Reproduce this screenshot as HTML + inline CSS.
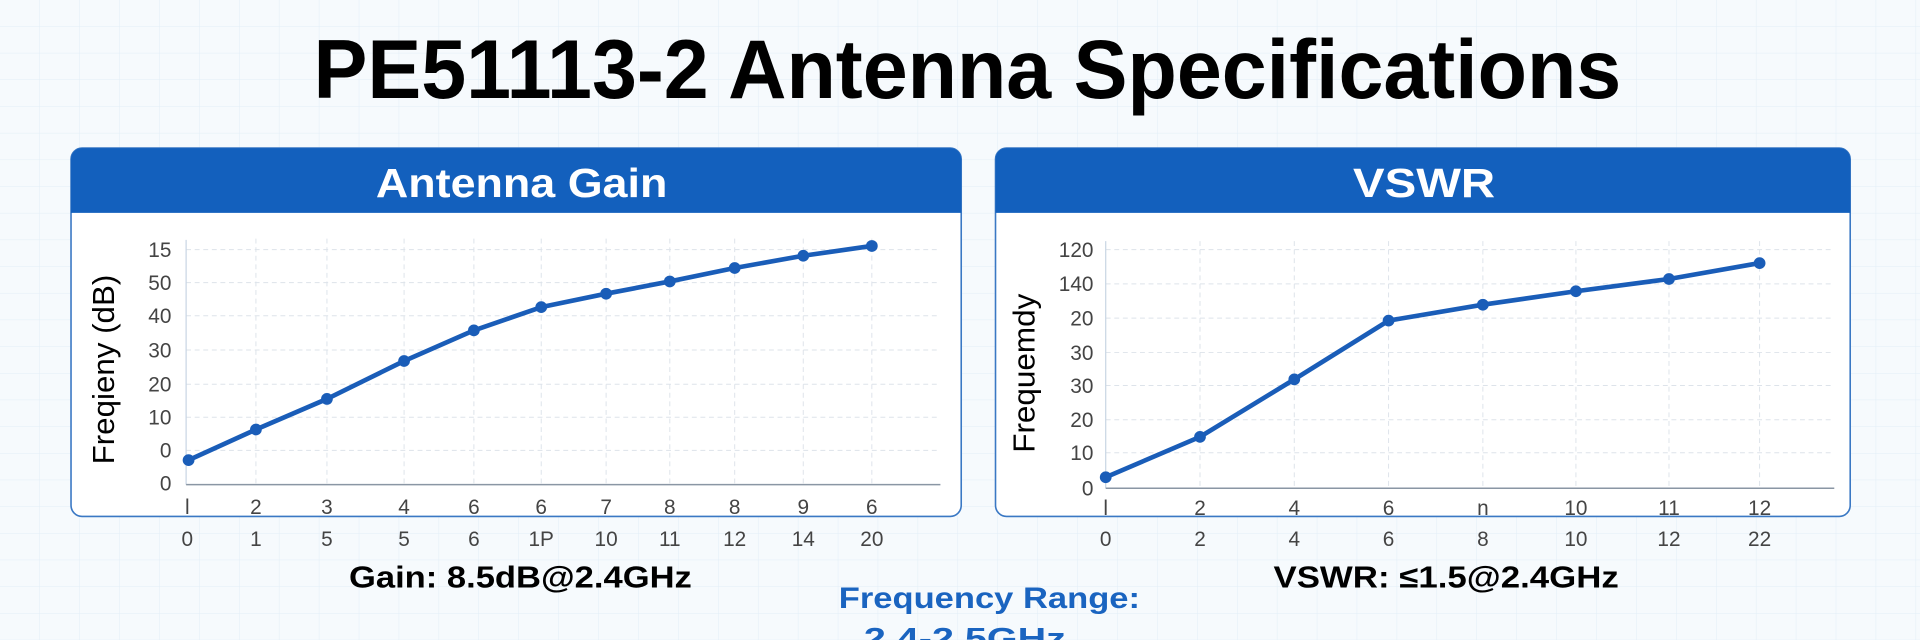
<!DOCTYPE html>
<html><head><meta charset="utf-8"><style>html,body{margin:0;padding:0;background:#f5f9fd;}svg{display:block}</style></head>
<body>
<svg width="1920" height="640" viewBox="0 0 1568 523" preserveAspectRatio="none" xmlns="http://www.w3.org/2000/svg" font-family="Liberation Sans, sans-serif">
<defs>
<pattern id="g" width="32.6" height="21.8" patternUnits="userSpaceOnUse">
<path d="M32.6 0V21.8M0 21.8H32.6" stroke="#e2eef7" stroke-width="0.8" fill="none"/>
</pattern>
</defs>
<rect width="1568" height="523" fill="#f6fafd"/>
<rect width="1568" height="523" fill="url(#g)"/>
<text x="790" y="80" font-size="68" font-weight="bold" text-anchor="middle" textLength="1068" lengthAdjust="spacingAndGlyphs" fill="#000">PE51113-2 Antenna Specifications</text>

<!-- Left panel -->
<rect x="58" y="121" width="727" height="301" rx="9" fill="#fff" stroke="#3a78c4" stroke-width="1.3"/>
<path d="M58 174V130a9 9 0 0 1 9-9H776a9 9 0 0 1 9 9V174Z" fill="#1360bd"/>
<text x="426" y="161" font-size="33" font-weight="bold" fill="#fff" text-anchor="middle" textLength="238" lengthAdjust="spacingAndGlyphs">Antenna Gain</text>
<g stroke="#dde3ea" stroke-width="0.8" stroke-dasharray="4 3">
<line x1="152" y1="204" x2="766" y2="204"/><line x1="152" y1="231" x2="766" y2="231"/><line x1="152" y1="258" x2="766" y2="258"/><line x1="152" y1="286" x2="766" y2="286"/><line x1="152" y1="314" x2="766" y2="314"/><line x1="152" y1="341" x2="766" y2="341"/><line x1="152" y1="368" x2="766" y2="368"/>
<line x1="209" y1="195" x2="209" y2="396"/><line x1="267" y1="195" x2="267" y2="396"/><line x1="330" y1="195" x2="330" y2="396"/><line x1="387" y1="195" x2="387" y2="396"/><line x1="442" y1="195" x2="442" y2="396"/><line x1="495" y1="195" x2="495" y2="396"/><line x1="547" y1="195" x2="547" y2="396"/><line x1="600" y1="195" x2="600" y2="396"/><line x1="656" y1="195" x2="656" y2="396"/><line x1="712" y1="195" x2="712" y2="396"/>
</g>
<line x1="152" y1="196" x2="152" y2="396" stroke="#c9d6e4" stroke-width="1"/>
<line x1="152" y1="396" x2="768" y2="396" stroke="#8a96a4" stroke-width="1.2"/>
<g font-size="17" fill="#444" text-anchor="end">
<text x="140" y="210">15</text><text x="140" y="237">50</text><text x="140" y="264">40</text><text x="140" y="292">30</text><text x="140" y="320">20</text><text x="140" y="347">10</text><text x="140" y="374">0</text><text x="140" y="401">0</text>
</g>
<text transform="translate(93 302) rotate(-90)" font-size="25" text-anchor="middle" fill="#000" textLength="155" lengthAdjust="spacingAndGlyphs">Freqieny (dB)</text>
<g font-size="17" fill="#444" text-anchor="middle">
<text x="153" y="420">l</text><text x="209" y="420">2</text><text x="267" y="420">3</text><text x="330" y="420">4</text><text x="387" y="420">6</text><text x="442" y="420">6</text><text x="495" y="420">7</text><text x="547" y="420">8</text><text x="600" y="420">8</text><text x="656" y="420">9</text><text x="712" y="420">6</text>
<text x="153" y="446">0</text><text x="209" y="446">1</text><text x="267" y="446">5</text><text x="330" y="446">5</text><text x="387" y="446">6</text><text x="442" y="446">1P</text><text x="495" y="446">10</text><text x="547" y="446">11</text><text x="600" y="446">12</text><text x="656" y="446">14</text><text x="712" y="446">20</text>
</g>
<polyline points="154,376 209,351 267,326 330,295 387,270 442,251 495,240 547,230 600,219 656,209 712,201" fill="none" stroke="#1a5db8" stroke-width="3.8" stroke-linejoin="round"/>
<g fill="#1a5db8">
<circle cx="154" cy="376" r="4.8"/><circle cx="209" cy="351" r="4.8"/><circle cx="267" cy="326" r="4.8"/><circle cx="330" cy="295" r="4.8"/><circle cx="387" cy="270" r="4.8"/><circle cx="442" cy="251" r="4.8"/><circle cx="495" cy="240" r="4.8"/><circle cx="547" cy="230" r="4.8"/><circle cx="600" cy="219" r="4.8"/><circle cx="656" cy="209" r="4.8"/><circle cx="712" cy="201" r="4.8"/>
</g>
<text x="425" y="480" font-size="25" font-weight="bold" fill="#000" text-anchor="middle" textLength="280" lengthAdjust="spacingAndGlyphs">Gain: 8.5dB@2.4GHz</text>

<!-- Right panel -->
<rect x="813" y="121" width="698" height="301" rx="9" fill="#fff" stroke="#3a78c4" stroke-width="1.3"/>
<path d="M813 174V130a9 9 0 0 1 9-9H1502a9 9 0 0 1 9 9V174Z" fill="#1360bd"/>
<text x="1163" y="161" font-size="33" font-weight="bold" fill="#fff" text-anchor="middle" textLength="116" lengthAdjust="spacingAndGlyphs">VSWR</text>
<g stroke="#dde3ea" stroke-width="0.8" stroke-dasharray="4 3">
<line x1="903" y1="204" x2="1496" y2="204"/><line x1="903" y1="232" x2="1496" y2="232"/><line x1="903" y1="260" x2="1496" y2="260"/><line x1="903" y1="288" x2="1496" y2="288"/><line x1="903" y1="315" x2="1496" y2="315"/><line x1="903" y1="343" x2="1496" y2="343"/><line x1="903" y1="370" x2="1496" y2="370"/>
<line x1="980" y1="197" x2="980" y2="399"/><line x1="1057" y1="197" x2="1057" y2="399"/><line x1="1134" y1="197" x2="1134" y2="399"/><line x1="1211" y1="197" x2="1211" y2="399"/><line x1="1287" y1="197" x2="1287" y2="399"/><line x1="1363" y1="197" x2="1363" y2="399"/><line x1="1437" y1="197" x2="1437" y2="399"/>
</g>
<line x1="903" y1="197" x2="903" y2="399" stroke="#c9d6e4" stroke-width="1"/>
<line x1="903" y1="399" x2="1498" y2="399" stroke="#8a96a4" stroke-width="1.2"/>
<g font-size="17" fill="#444" text-anchor="end">
<text x="893" y="210">120</text><text x="893" y="238">140</text><text x="893" y="266">20</text><text x="893" y="294">30</text><text x="893" y="321">30</text><text x="893" y="349">20</text><text x="893" y="376">10</text><text x="893" y="405">0</text>
</g>
<text transform="translate(845 305) rotate(-90)" font-size="25" text-anchor="middle" fill="#000" textLength="130" lengthAdjust="spacingAndGlyphs">Frequemdy</text>
<g font-size="17" fill="#444" text-anchor="middle">
<text x="903" y="421">l</text><text x="980" y="421">2</text><text x="1057" y="421">4</text><text x="1134" y="421">6</text><text x="1211" y="421">n</text><text x="1287" y="421">10</text><text x="1363" y="421">11</text><text x="1437" y="421">12</text>
<text x="903" y="446">0</text><text x="980" y="446">2</text><text x="1057" y="446">4</text><text x="1134" y="446">6</text><text x="1211" y="446">8</text><text x="1287" y="446">10</text><text x="1363" y="446">12</text><text x="1437" y="446">22</text>
</g>
<polyline points="903,390 980,357 1057,310 1134,262 1211,249 1287,238 1363,228 1437,215" fill="none" stroke="#1a5db8" stroke-width="3.8" stroke-linejoin="round"/>
<g fill="#1a5db8">
<circle cx="903" cy="390" r="4.8"/><circle cx="980" cy="357" r="4.8"/><circle cx="1057" cy="310" r="4.8"/><circle cx="1134" cy="262" r="4.8"/><circle cx="1211" cy="249" r="4.8"/><circle cx="1287" cy="238" r="4.8"/><circle cx="1363" cy="228" r="4.8"/><circle cx="1437" cy="215" r="4.8"/>
</g>
<text x="1181" y="480" font-size="25" font-weight="bold" fill="#000" text-anchor="middle" textLength="282" lengthAdjust="spacingAndGlyphs">VSWR: ≤1.5@2.4GHz</text>

<!-- Frequency range -->
<text x="808" y="497" font-size="24" font-weight="bold" fill="#1a64c0" text-anchor="middle" textLength="246" lengthAdjust="spacingAndGlyphs">Frequency Range:</text>
<text x="788" y="530" font-size="24" font-weight="bold" fill="#1a64c0" text-anchor="middle" textLength="165" lengthAdjust="spacingAndGlyphs">2.4-2.5GHz</text>
</svg>
</body></html>
